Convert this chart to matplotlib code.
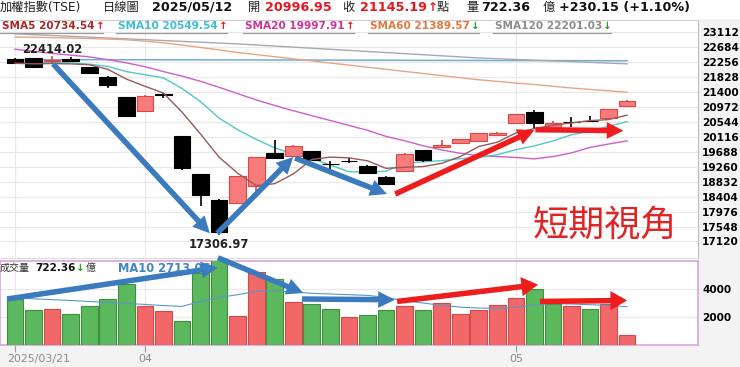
import matplotlib.pyplot as plt
from matplotlib.patches import FancyArrowPatch, Rectangle
from matplotlib.lines import Line2D
from matplotlib.transforms import ScaledTranslation
import numpy as np

plt.rcParams['font.family'] = ['DejaVu Sans', 'Noto Sans CJK TC']

# ---- data (TAIEX daily, 2025/03/21 - 2025/05/12) ----
tick_idx = [0, 7, 27]
tick_labels = ['2025/03/21', '04', '05']

opens = [22340, 22360, 22290, 22340, 22100, 21830, 21240, 20860, 21330, 20140,
         19040, 18300, 18213, 18716, 19660, 19575, 19710, 19340, 19430, 19280,
         18970, 19140, 19738, 19830, 19950, 20000, 20180, 20520, 20834, 20360,
         20550, 20570, 20645, 20996.95]
highs = [22370, 22380, 22414.02, 22400, 22120, 21840, 21250, 21310, 21380, 20140,
         19050, 18340, 19000, 19540, 20020, 19870, 19720, 19430, 19500, 19310,
         19000, 19640, 19745, 20020, 20060, 20220, 20260, 20770, 20881, 20580,
         20690, 20710, 20920, 21180]
lows = [22210, 22090, 22230, 22250, 21930, 21500, 20680, 20850, 21220, 19170,
        18140, 17306.97, 18210, 18402, 19490, 19560, 19440, 19195, 19360, 19050,
        18760, 19130, 19400, 19830, 19940, 19990, 20170, 20510, 20330, 20350,
        20390, 20550, 20620, 20990]
closes = [22220, 22100, 22310, 22270, 21950, 21600, 20700, 21280, 21300, 19230,
          18460, 17391.76, 18990, 19528.77, 19500, 19850, 19460, 19330, 19420, 19080,
          18770, 19610, 19440, 19880, 20040, 20210, 20230, 20765, 20500, 20520,
          20540, 20560, 20915.36, 21145.19]

sma5 = [22220, 22200, 22210, 22200, 22176, 22046, 21766, 21560, 21366, 20822,
        20194, 19532, 19074, 18720, 18774, 19052, 19466, 19534, 19512, 19428,
        19212, 19242, 19264, 19356, 19548, 19836, 19960, 20225, 20349, 20445,
        20511, 20577, 20607, 20734.54]
sma10 = [22260, 22240, 22240, 22230, 22190, 22130, 21980, 21890, 21800, 21499,
         21120, 20649, 20317, 20043, 19798, 19623, 19499, 19304, 19116, 19101,
         19132, 19354, 19399, 19434, 19488, 19524, 19601, 19745, 19853, 19997,
         20174, 20269, 20416, 20549.54]
sma20 = [22620, 22560, 22500, 22450, 22400, 22320, 22230, 22120, 21980, 21850,
         21700, 21530, 21350, 21170, 21010, 20860, 20720, 20580, 20440, 20300,
         20126, 20002, 19858, 19739, 19643, 19574, 19550, 19524, 19484, 19549,
         19653, 19811, 19908, 19997.91]
sma60 = [22970, 22960, 22950, 22940, 22925, 22910, 22890, 22850, 22800, 22740,
         22670, 22600, 22525, 22465, 22405, 22345, 22285, 22225, 22165, 22105,
         22045, 21985, 21925, 21865, 21805, 21745, 21700, 21650, 21610, 21560,
         21510, 21470, 21430, 21389.57]
sma120 = [23060, 23036, 23012, 22988, 22964, 22940, 22916, 22892, 22868, 22844,
          22820, 22796, 22772, 22741, 22710, 22679, 22648, 22617, 22586, 22555,
          22524, 22493, 22462, 22431, 22400, 22369, 22348, 22327, 22306, 22285,
          22264, 22243, 22222, 22201.03]
ref_line = [22320, 22320, 22320, 22320, 22320, 22320, 22318, 22318, 22316, 22316,
            22314, 22314, 22312, 22312, 22310, 22310, 22308, 22308, 22306, 22306,
            22304, 22302, 22300, 22300, 22298, 22298, 22296, 22296, 22294, 22294,
            22292, 22292, 22290, 22290]

volumes = [3250, 2460, 2570, 2210, 2790, 3260, 4330, 2790, 2430, 1710,
           5140, 6100, 2070, 5160, 4690, 3050, 2890, 2540, 2020, 2110,
           2460, 2790, 2450, 2950, 2210, 2460, 2810, 3330, 3950, 2890,
           2790, 2540, 2890, 722.36]
vol_up = 'DDUDDDDUUDDDUUDUDDUDDUDUUUUUDDUDUU'
vol_ma10 = [3340, 3280, 3220, 3160, 3090, 3020, 2950, 2880, 2800, 2740,
            3090, 3380, 3570, 3810, 3850, 3760, 3670, 3620, 3570, 3520,
            3380, 3140, 2980, 2810, 2690, 2620, 2600, 2670, 2860, 2930,
            2910, 2860, 2810, 2713.06]

price_ticks = [17120 + 428 * k for k in range(15)]
vol_ticks = [2000, 4000]

# ---- layout ----
W, H = 740, 367
fx = lambda x: x / W
fy = lambda y: 1 - y / H

fig = plt.figure(figsize=(W / 100, H / 100), dpi=100)
fig.patch.set_facecolor('white')
fig.patches.append(Rectangle((fx(698), 0), 1 - fx(698), fy(19), transform=fig.transFigure,
                             facecolor='#f3f3f3', edgecolor='none', zorder=-10))
fig.patches.append(Rectangle((0, 0), 1, fy(345), transform=fig.transFigure,
                             facecolor='#f3f3f3', edgecolor='none', zorder=-10))

ax = fig.add_axes([0, fy(258), fx(698), (258 - 20) / H])
axv = fig.add_axes([0, fy(345), fx(698), (345 - 261) / H], sharex=ax)

x = np.arange(len(closes))
RED_FILL, RED_EDGE = '#f77b7b', '#e04545'

# candles
for i in x:
    up = closes[i] > opens[i]
    c = RED_EDGE if up else 'black'
    ax.vlines(i, lows[i], highs[i], color=c, lw=1.2, zorder=3)
    lo, hi = min(opens[i], closes[i]), max(opens[i], closes[i])
    ax.bar(i, max(hi - lo, 8), bottom=lo, width=0.9,
           color=RED_FILL if up else 'black', edgecolor=c, lw=0.8, zorder=4)

ax.plot(x, ref_line, color='#6faed0', lw=1.1, zorder=2)
ax.plot(x, sma120, color='#a8a8b4', lw=1.0, zorder=2)
ax.plot(x, sma60, color='#e8a585', lw=1.0, zorder=2)
ax.plot(x, sma20, color='#cc5fc8', lw=1.0, zorder=2)
ax.plot(x, sma10, color='#52c8c8', lw=1.0, zorder=2)
ax.plot(x, sma5, color='#9a5858', lw=1.0, zorder=5)

ax.annotate(f'{highs[2]:.2f}', xy=(2, highs[2]), xytext=(0, 0.5), textcoords='offset points',
            ha='center', va='bottom', fontsize=8.3, fontweight='bold', color='#222222')
ax.annotate(f'{lows[11]:.2f}', xy=(11, lows[11]), xytext=(0, -2), textcoords='offset points',
            ha='center', va='top', fontsize=8.3, fontweight='bold', color='#222222')

ax.set_xlim(-0.81, 36.82)
ax.set_ylim(16648, 23455)
ax.yaxis.tick_right()
ax.set_yticks(price_ticks)
ax.set_yticklabels([str(t) for t in price_ticks], fontsize=7.6, fontweight='bold')
ax.tick_params(axis='y', length=0, pad=3)
ax.set_xticks(tick_idx)
ax.tick_params(axis='x', length=0, labelbottom=False)
ax.grid(True, color='#e9e9e9', lw=0.9, zorder=0)
ax.set_axisbelow(True)
ax.spines['left'].set_visible(False)
ax.spines['top'].set_color('#cfcfcf')
ax.spines['right'].set_color('#bdbdbd')
ax.spines['bottom'].set_color('#dddddd')

# volume
for i in x:
    up = vol_up[i] == 'U'
    axv.bar(i, volumes[i], width=0.9, color='#f26868' if up else '#5cb85c',
            edgecolor='#d04848' if up else '#3f8f3f', lw=0.8, zorder=3)
axv.plot(x, vol_ma10, color='#5a96cc', lw=0.8, zorder=4)
axv.set_ylim(0, 5962)
axv.yaxis.tick_right()
axv.set_yticks(vol_ticks)
axv.set_yticklabels([str(t) for t in vol_ticks], fontsize=7.6, fontweight='bold')
axv.tick_params(axis='y', length=0, pad=3)
axv.set_xticks(tick_idx)
axv.set_xticklabels(tick_labels, fontsize=7.9, color='#8a8a8a')
axv.tick_params(axis='x', length=5, color='#999999', pad=1.5)
first = axv.get_xticklabels()[0]
first.set_ha('left')
first.set_transform(first.get_transform() + ScaledTranslation(-0.08, 0, fig.dpi_scale_trans))
axv.grid(True, color='#e9e9e9', lw=0.9, zorder=0)
axv.set_axisbelow(True)
for s in axv.spines.values():
    s.set_color('#d9a3d9')
    s.set_linewidth(1.2)


def arrow(axes, x0, y0, x1, y1, color, hw=1.0):
    style = f'simple,tail_width=0.33,head_width={hw},head_length=1.0'
    axes.add_patch(FancyArrowPatch((x0, y0), (x1, y1), arrowstyle=style, mutation_scale=12,
                                   color=color, lw=0, shrinkA=0, shrinkB=0,
                                   clip_on=False, zorder=7))


BLUE, RED = '#3b7bbd', '#ee1c1c'
arrow(ax, 2.05, 22200, 10.5, 17355, BLUE)
arrow(ax, 10.9, 17355, 15.0, 19537, BLUE)
arrow(ax, 15.1, 19508, 20.05, 18479, BLUE)
arrow(ax, 20.5, 18479, 28.0, 20309, RED)
arrow(ax, 28.05, 20318, 32.8, 20289, RED)

arrow(axv, -0.43, 3263, 10.94, 5498, BLUE)
arrow(axv, 10.94, 6190, 15.54, 3690, BLUE)
arrow(axv, 15.47, 3263, 20.48, 3213, BLUE)
arrow(axv, 20.6, 3092, 28.2, 4284, RED, hw=1.15)
arrow(axv, 28.3, 3092, 33.0, 3163, RED, hw=1.15)

# ---- header texts ----
def t(xp, yp, s, **kw):
    kw.setdefault('va', 'center')
    kw.setdefault('ha', 'left')
    return fig.text(fx(xp), fy(yp), s, **kw)

renderer = fig.canvas.get_renderer()


def right_px(txt):
    return txt.get_window_extent(renderer).x1


t(0, 7.5, '加權指數(TSE)', fontsize=8.8, color='#222222')
t(103, 7.5, '日線圖', fontsize=8.8, color='#222222')
t(152, 7.5, '2025/05/12', fontsize=9.2, fontweight='bold', color='#111111')
t(248, 7.5, '開', fontsize=8.8, color='#222222')
t(265, 7.5, f'{opens[-1]:.2f}', fontsize=9.2, fontweight='bold', color='#e8161c')
t(342, 7.5, '收', fontsize=8.8, color='#222222')
c_txt = t(360, 7.5, f'{closes[-1]:.2f}', fontsize=9.2, fontweight='bold', color='#e8161c')
t(right_px(c_txt) + 1, 7.5, '↑', fontsize=8.5, fontweight='bold', color='#e8161c')
t(437, 7.5, '點', fontsize=8.8, color='#222222')
t(466, 7.5, '量', fontsize=8.8, color='#222222')
t(481, 7.5, f'{volumes[-1]:.2f}', fontsize=9.2, fontweight='bold', color='#111111')
t(543, 7.5, '億', fontsize=8.8, color='#222222')
t(559, 7.5, '+230.15 (+1.10%)', fontsize=9.2, fontweight='bold', color='#111111')

sma_labels = [
    (2, 'SMA5', sma5[-1], '#a52a2a', True),
    (118, 'SMA10', sma10[-1], '#3dbfd0', True),
    (245, 'SMA20', sma20[-1], '#cc3399', True),
    (370, 'SMA60', sma60[-1], '#e07840', False),
    (495, 'SMA120', sma120[-1], '#8c8c8c', False),
]
for xp, name, val, col, up in sma_labels:
    txt = t(xp, 26, f'{name} {val:.2f}', fontsize=7.6, fontweight='bold', color=col)
    xa = right_px(txt) + 1
    t(xa, 26, '↑' if up else '↓', fontsize=7.5, fontweight='bold',
      color='#e8161c' if up else '#22a022')
    fig.add_artist(Line2D([fx(xp - 2), fx(xa + 8)], [fy(32.5), fy(32.5)], color='#9a9a9a', lw=0.9))

t(0, 268, '成交量', fontsize=7.2, color='#333333')
v_txt = t(35, 268, f'{volumes[-1]:.2f}', fontsize=7.5, fontweight='bold', color='#111111')
xa = right_px(v_txt) + 1
a_txt = t(xa, 268, '↓', fontsize=7.5, fontweight='bold', color='#22a022')
t(right_px(a_txt) + 1, 268, '億', fontsize=7.2, color='#333333')
t(118, 268, f'MA10 {vol_ma10[-1]:.2f}', fontsize=8.3, fontweight='bold', color='#3f86c6')

t(605, 226, '短期視角', fontsize=26, color='#e02424', ha='center', fontweight='light',
  family=['Noto Sans CJK TC'])

fig.savefig('out.png', dpi=100)
